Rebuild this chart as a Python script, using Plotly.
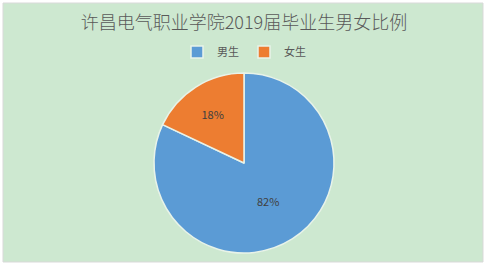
import plotly.graph_objects as go

labels = ["男生", "女生"]
values = [82, 18]
colors = ["#5B9BD5", "#ED7D31"]
title_text = "许昌电气职业学院2019届毕业生男女比例"

W, H = 489, 267
L, R, T, B = 154, 155, 73, 14
fig = go.Figure(go.Pie(
    labels=labels, values=values, sort=False, direction="clockwise", rotation=0,
    marker=dict(colors=colors, line=dict(color="#E8F3E9", width=1.5)),
    textinfo="percent", texttemplate="%{percent:.0%}", textposition="inside",
    insidetextfont=dict(color="#404040", size=11, family="Noto Sans CJK SC"),
    hoverinfo="skip", showlegend=True,
))
fig.update_layout(
    width=W, height=H,
    margin=dict(l=L, r=R, t=T, b=B),
    paper_bgcolor="white",
    plot_bgcolor="white",
    font=dict(family="Noto Sans CJK SC", color="#595959"),
    title=dict(text=title_text, x=0.5, xanchor="center", xref="paper",
               y=1 - 23 / H, yanchor="middle", yref="container",
               font=dict(size=18, color="#595959", family="Noto Sans CJK SC", weight=300)),
    legend=dict(orientation="h", x=0.5, xanchor="center", y=1 - 52 / H, yanchor="middle",
                yref="container", xref="paper",
                font=dict(size=11, color="#595959"), bgcolor="rgba(0,0,0,0)",
                itemwidth=30, traceorder="normal"),
    shapes=[dict(type="rect", xref="paper", yref="paper",
                 x0=(3 - L) / (W - L - R), x1=(483 - L) / (W - L - R),
                 y0=(H - B - 262) / (H - T - B), y1=(H - B - 3) / (H - T - B),
                 fillcolor="#CDE8D0", line=dict(color="#D9D9D9", width=1), layer="below")],
)
fig.write_html("out.html")
